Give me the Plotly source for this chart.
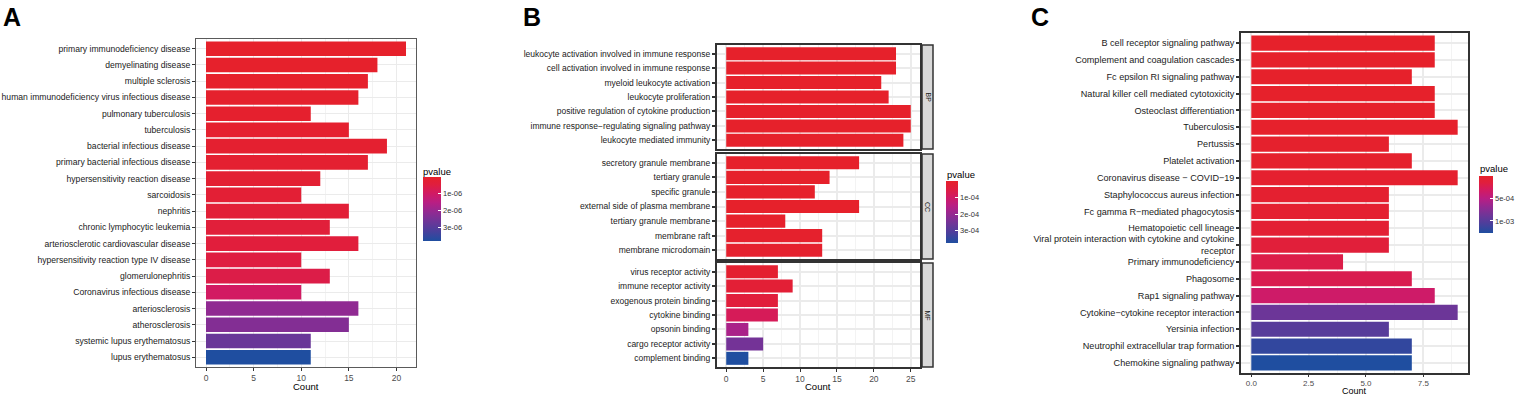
import plotly.graph_objects as go

W, H = 1517, 396
FONT = "Liberation Sans, Arial, sans-serif"

# ---------------- data ----------------
a_terms = ["primary immunodeficiency disease", "demyelinating disease", "multiple sclerosis",
           "human immunodeficiency virus infectious disease", "pulmonary tuberculosis", "tuberculosis",
           "bacterial infectious disease", "primary bacterial infectious disease",
           "hypersensitivity reaction disease", "sarcoidosis", "nephritis", "chronic lymphocytic leukemia",
           "arteriosclerotic cardiovascular disease", "hypersensitivity reaction type IV disease",
           "glomerulonephritis", "Coronavirus infectious disease", "arteriosclerosis", "atherosclerosis",
           "systemic lupus erythematosus", "lupus erythematosus"]
a_count = [21, 18, 17, 16, 11, 15, 19, 17, 12, 10, 15, 13, 16, 10, 13, 10, 16, 15, 11, 11]
a_pvalue = [1e-9, 2e-8, 3e-8, 5e-8, 8e-8, 1e-7, 1.2e-7, 1.5e-7, 2e-7, 2.5e-7, 3e-7, 3.5e-7,
            4e-7, 5e-7, 6e-7, 0.95e-6, 2.1e-6, 2.3e-6, 2.7e-6, 3.8e-6]
a_ticks = [1e-6, 2e-6, 3e-6]
a_ticktext = ["1e-06", "2e-06", "3e-06"]

bp_terms = ["leukocyte activation involved in immune response", "cell activation involved in immune response",
            "myeloid leukocyte activation", "leukocyte proliferation",
            "positive regulation of cytokine production", "immune response\u2212regulating signaling pathway",
            "leukocyte mediated immunity"]
bp_count = [23, 23, 21, 22, 25, 25, 24]
bp_pvalue = [1e-9, 2e-9, 5e-9, 1e-8, 2e-8, 3e-8, 5e-8]

cc_terms = ["secretory granule membrane", "tertiary granule", "specific granule",
            "external side of plasma membrane", "tertiary granule membrane", "membrane raft",
            "membrane microdomain"]
cc_count = [18, 14, 12, 18, 8, 13, 13]
cc_pvalue = [1e-7, 3e-7, 6e-7, 1e-6, 3e-6, 5e-6, 6e-6]

mf_terms = ["virus receptor activity", "immune receptor activity", "exogenous protein binding",
            "cytokine binding", "opsonin binding", "cargo receptor activity", "complement binding"]
mf_count = [7, 9, 7, 7, 3, 5, 3]
mf_pvalue = [1.2e-5, 2.5e-5, 4e-5, 8e-5, 1.7e-4, 2.5e-4, 3.75e-4]
b_ticks = [1e-4, 2e-4, 3e-4]
b_ticktext = ["1e-04", "2e-04", "3e-04"]

c_terms = ["B cell receptor signaling pathway", "Complement and coagulation cascades",
           "Fc epsilon RI signaling pathway", "Natural killer cell mediated cytotoxicity",
           "Osteoclast differentiation", "Tuberculosis", "Pertussis", "Platelet activation",
           "Coronavirus disease \u2212 COVID\u221219", "Staphylococcus aureus infection",
           "Fc gamma R\u2212mediated phagocytosis", "Hematopoietic cell lineage",
           "Viral protein interaction with cytokine and cytokine<br>receptor", "Primary immunodeficiency",
           "Phagosome", "Rap1 signaling pathway", "Cytokine\u2212cytokine receptor interaction",
           "Yersinia infection", "Neutrophil extracellular trap formation", "Chemokine signaling pathway"]
c_count = [8, 8, 7, 8, 8, 9, 6, 7, 9, 6, 6, 6, 6, 4, 7, 8, 9, 6, 7, 7]
c_pvalue = [1e-7, 5e-7, 1e-6, 2e-6, 4e-6, 8e-6, 1.5e-5, 2e-5, 3e-5, 4e-5, 5e-5, 7e-5,
            1.2e-4, 2.0e-4, 2.3e-4, 3.5e-4, 8.9e-4, 1.0e-3, 1.18e-3, 1.27e-3]
c_ticks = [5e-4, 1e-3]
c_ticktext = ["5e-04", "1e-03"]

# colour scale: 0 = high p (blue) ... 1 = low p (red)
colorscale = [
    [0.00, "rgb(31,78,160)"],
    [0.15, "rgb(72,64,156)"],
    [0.30, "rgb(108,54,152)"],
    [0.45, "rgb(145,42,146)"],
    [0.60, "rgb(184,30,132)"],
    [0.75, "rgb(210,26,98)"],
    [0.88, "rgb(224,30,62)"],
    [1.00, "rgb(230,33,43)"],
]


def px_x(p):
    return p / W


def px_y(p):
    return 1 - p / H


fig = go.Figure()

GRID = "#EBEBEB"
GRID_MINOR = "#F3F3F3"
TXT = "#1A1A1A"
TICKTXT = "#4D4D4D"


def add_panel(terms, counts, pvals, xa, ya, cax):
    fig.add_trace(go.Bar(
        x=counts, y=terms, orientation="h", width=0.9,
        marker=dict(color=[-p for p in pvals], coloraxis=cax, line=dict(width=0)),
        xaxis=xa, yaxis=ya, showlegend=False, hoverinfo="x+y"))


add_panel(a_terms, a_count, a_pvalue, "x", "y", "coloraxis")
add_panel(bp_terms, bp_count, bp_pvalue, "x2", "y2", "coloraxis2")
add_panel(cc_terms, cc_count, cc_pvalue, "x3", "y3", "coloraxis2")
add_panel(mf_terms, mf_count, mf_pvalue, "x4", "y4", "coloraxis2")
add_panel(c_terms, c_count, c_pvalue, "x5", "y5", "coloraxis3")


def xaxis_cfg(dom, rng, dtick, minor, anchor, line_col, line_w, grid_w, show_labels=True, fmt=None,
              tsize=8.5, tlen=3):
    d = dict(domain=[px_x(dom[0]), px_x(dom[1])], range=rng, anchor=anchor, automargin=False,
             tickmode="linear", tick0=0, dtick=dtick,
             showgrid=True, gridcolor=GRID, gridwidth=grid_w, zeroline=False,
             minor=dict(showgrid=True, gridcolor=GRID_MINOR, gridwidth=grid_w * 0.6, dtick=minor, tick0=0),
             showline=True, mirror=True, linecolor=line_col, linewidth=line_w,
             ticks="outside" if show_labels else "", ticklen=tlen, tickwidth=1, tickcolor="#333333",
             showticklabels=show_labels, tickfont=dict(size=tsize, color=TICKTXT, family=FONT))
    if fmt:
        d["tickformat"] = fmt
    return d


def yaxis_cfg(dom, terms, anchor, line_col, line_w, grid_w, tickw=1, size=8.5):
    n = len(terms)
    return dict(domain=[px_y(dom[1]), px_y(dom[0])], type="category", automargin=False,
                categoryorder="array", categoryarray=terms, range=[n - 0.4, -0.6], anchor=anchor,
                showgrid=True, gridcolor=GRID, gridwidth=grid_w, zeroline=False,
                showline=True, mirror=True, linecolor=line_col, linewidth=line_w,
                ticks="outside", ticklen=3, tickwidth=tickw, tickcolor="#333333",
                tickfont=dict(size=size, color=TXT, family=FONT))


# Panel A
A_X = (196, 416)
A_Y = (39, 367)
# Panel B
B_X = (717, 920)
B_BP = (45, 149)
B_CC = (154, 259)
B_MF = (263, 367)
# Panel C
C_X = (1241, 1468)
C_Y = (33, 373)

fig.update_layout(
    xaxis=xaxis_cfg(A_X, [-1.05, 22.05], 5, 2.5, "y", "#5A5A5A", 1, 1),
    yaxis=yaxis_cfg(A_Y, a_terms, "x", "#5A5A5A", 1, 1, size=8.6),
    xaxis2=xaxis_cfg(B_X, [-1.25, 26.25], 5, 2.5, "y2", "#333333", 2, 2, show_labels=False),
    yaxis2=yaxis_cfg(B_BP, bp_terms, "x2", "#333333", 2, 2, tickw=1.5),
    xaxis3=xaxis_cfg(B_X, [-1.25, 26.25], 5, 2.5, "y3", "#333333", 2, 2, show_labels=False),
    yaxis3=yaxis_cfg(B_CC, cc_terms, "x3", "#333333", 2, 2, tickw=1.5),
    xaxis4=xaxis_cfg(B_X, [-1.25, 26.25], 5, 2.5, "y4", "#333333", 2, 2),
    yaxis4=yaxis_cfg(B_MF, mf_terms, "x4", "#333333", 2, 2, tickw=1.5),
    xaxis5=xaxis_cfg(C_X, [-0.45, 9.45], 2.5, 1.25, "y5", "#333333", 1.5, 1.5, fmt=".1f",
                     tsize=8, tlen=2),
    yaxis5=yaxis_cfg(C_Y, c_terms, "x5", "#333333", 1.5, 1.5, tickw=1.5, size=9.1),
)


def cax_cfg(pvals, ticks, ticktext, x0, x1, y0, y1):
    return dict(
        colorscale=colorscale, cmin=-max(pvals), cmax=-min(pvals),
        colorbar=dict(x=px_x(x0), xanchor="left", xpad=0, ypad=0,
                      y=px_y(y0), yanchor="top", lenmode="pixels", len=y1 - y0,
                      thicknessmode="pixels", thickness=x1 - x0, outlinewidth=0,
                      tickmode="array", tickvals=[-t for t in ticks], ticktext=ticktext,
                      ticks="inside", ticklen=3, tickcolor="white", tickwidth=1,
                      tickfont=dict(size=7.5, color="#333333", family=FONT)))


fig.update_layout(
    coloraxis=cax_cfg(a_pvalue, a_ticks, a_ticktext, 423, 441, 177, 241),
    coloraxis2=cax_cfg(mf_pvalue + bp_pvalue, b_ticks, b_ticktext, 946, 958, 181, 243),
    coloraxis3=cax_cfg(c_pvalue, c_ticks, c_ticktext, 1479, 1493, 176, 233),
)

annotations = []


def ann(text, x, y, size, xanchor="center", yanchor="middle", bold=False, angle=0, color="black"):
    annotations.append(dict(text=f"<b>{text}</b>" if bold else text, x=px_x(x), y=px_y(y),
                            xref="paper", yref="paper", showarrow=False, xanchor=xanchor,
                            yanchor=yanchor, textangle=angle,
                            font=dict(size=size, color=color, family=FONT)))


# panel letters
ann("A", 1, 17, 25, xanchor="left", bold=True)
ann("B", 521, 17, 25, xanchor="left", bold=True)
ann("C", 1029, 17, 25, xanchor="left", bold=True)
# axis titles
ann("Count", 306, 386, 9.5)
ann("Count", 818, 386, 9.5)
ann("Count", 1354, 391, 9)
# colourbar titles
ann("pvalue", 421, 171, 9.5, xanchor="left")
ann("pvalue", 945, 174, 9.5, xanchor="left")
ann("pvalue", 1478, 169, 9.5, xanchor="left")

shapes = []
for (lab, (y0, y1)) in [("BP", B_BP), ("CC", B_CC), ("MF", B_MF)]:
    shapes.append(dict(type="rect", xref="paper", yref="paper",
                       x0=px_x(922), x1=px_x(933), y0=px_y(y1), y1=px_y(y0),
                       fillcolor="#D9D9D9", line=dict(color="#333333", width=1.5)))
    ann(lab, 927.5, (y0 + y1) / 2, 7, angle=90, color="#1A1A1A")

fig.update_layout(
    width=W, height=H, margin=dict(l=0, r=0, t=0, b=0, autoexpand=False),
    paper_bgcolor="white", plot_bgcolor="white",
    bargap=0.1, annotations=annotations, shapes=shapes,
    font=dict(family=FONT),
)

fig.write_html("out.html", config={"displayModeBar": False},
               post_script="document.body.style.margin='0';document.body.style.overflow='hidden';")
